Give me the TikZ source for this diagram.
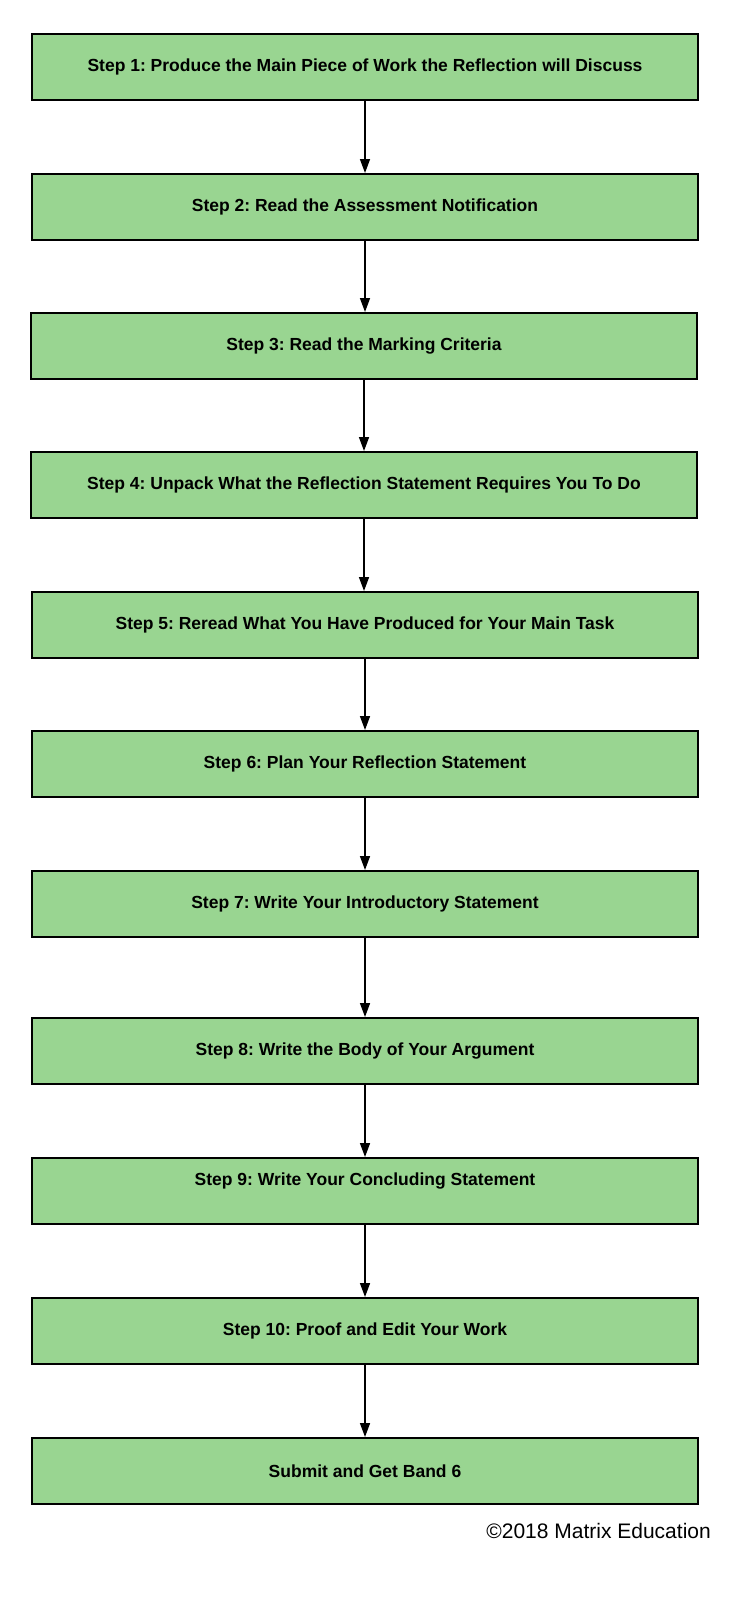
\documentclass[tikz,border=0pt]{standalone}
\usepackage{fontspec}
\setmainfont{Liberation Sans}
\usetikzlibrary{arrows.meta}
\definecolor{boxgreen}{HTML}{99D591}
\frenchspacing
\begin{document}
\begin{tikzpicture}[x=1pt,y=-1pt,
  stepbox/.style={draw=black, line width=2pt, fill=boxgreen, minimum width=666pt, minimum height=66pt, inner sep=0pt, font=\fontsize{17.5}{20}\selectfont\bfseries},
  flow/.style={draw=black, line width=1.5pt, -{Triangle[length=14pt,width=10pt]}}]
\useasboundingbox (0,0) rectangle (755,1600);
\node[stepbox] (s1) at (365,67) {Step 1: Produce the Main Piece of Work the Reflection will Discuss};
\node[stepbox] (s2) at (365,207) {Step 2: Read the Assessment Notification};
\node[stepbox] (s3) at (364,346) {Step 3: Read the Marking Criteria};
\node[stepbox] (s4) at (364,485) {Step 4: Unpack What the Reflection Statement Requires You To Do};
\node[stepbox] (s5) at (365,625) {Step 5: Reread What You Have Produced for Your Main Task};
\node[stepbox] (s6) at (365,764) {Step 6: Plan Your Reflection Statement};
\node[stepbox] (s7) at (365,904) {Step 7: Write Your Introductory Statement};
\node[stepbox] (s8) at (365,1051) {Step 8: Write the Body of Your Argument};
\node[stepbox, text depth=23pt] (s9) at (365,1191) {Step 9: Write Your Concluding Statement};
\node[stepbox] (s10) at (365,1331) {Step 10: Proof and Edit Your Work};
\node[stepbox] (s11) at (365,1471) {Submit and Get Band 6};
\node[anchor=east, inner sep=0pt, font=\fontsize{21}{24}\selectfont] (copy) at (711,1531) {©2018 Matrix Education};
\foreach \a/\b in {s1/s2,s2/s3,s3/s4,s4/s5,s5/s6,s6/s7,s7/s8,s8/s9,s9/s10,s10/s11}
  \draw[flow] (\a.south) -- (\a.south |- \b.north);
\end{tikzpicture}
\end{document}
